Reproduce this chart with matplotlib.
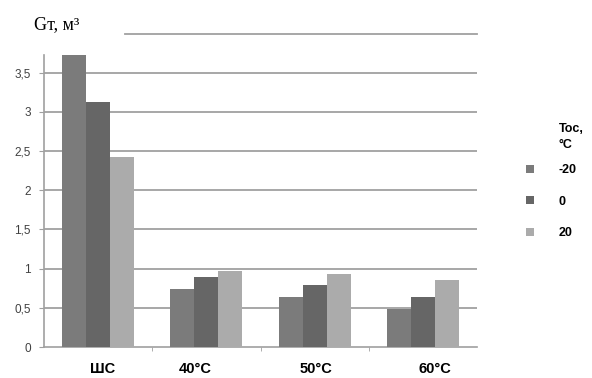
import numpy as np
import matplotlib
matplotlib.use("Agg")
import matplotlib.pyplot as plt

# data
categories = ["ШС", "40°C", "50°C", "60°C"]
series = ["-20", "0", "20"]
vals_m20 = [3.73, 0.74, 0.64, 0.48]
vals_0 = [3.13, 0.89, 0.79, 0.64]
vals_20 = [2.42, 0.97, 0.93, 0.85]
colors = ["#7b7b7b", "#666666", "#ababab"]
yticks = [0, 0.5, 1, 1.5, 2, 2.5, 3, 3.5]
ytick_labels = ["0", "0,5", "1", "1,5", "2", "2,5", "3", "3,5"]

plt.rcParams['font.family'] = ['Liberation Sans', 'DejaVu Sans']

fig = plt.figure(figsize=(5.92, 3.78), dpi=100)
ax = fig.add_axes([0.0743, 0.082, 0.7317, 0.829])

x = np.arange(len(categories))
w = 0.222
bars = []
for i, (vals, c) in enumerate(zip([vals_m20, vals_0, vals_20], colors)):
    b = ax.bar(x + (i - 1) * w, vals, width=w, color=c, zorder=3, linewidth=0)
    bars.append(b)

ax.set_xlim(-0.5, len(categories) - 0.5)
ax.set_ylim(0, 4)

# gridlines
for yv in yticks[1:]:
    ax.axhline(yv, color="#a0a0a0", lw=1.3, zorder=1)
ax.axhline(4, xmin=0.187, xmax=1, color="#a0a0a0", lw=1.3, zorder=1, clip_on=False)

for s in ["top", "right"]:
    ax.spines[s].set_visible(False)
ax.spines["left"].set_bounds(0, 3.73)
for s in ["left", "bottom"]:
    ax.spines[s].set_color("#a0a0a0")
    ax.spines[s].set_linewidth(1.2)

ax.set_yticks(yticks)
ax.set_yticklabels(ytick_labels, fontsize=8.5, color="#404040")
ax.tick_params(axis="y", length=3.5, color="#a0a0a0", pad=6)

# category labels sit a little off the group centres in the original
label_shift = [0.04, -0.10, 0.01, 0.11]
ax.set_xticks(x + np.array(label_shift))
ax.set_xticklabels(categories, fontsize=10.5, fontweight="bold")
ax.tick_params(axis="x", which="major", length=0, pad=11)
ax.set_xticks(x[:-1] + 0.5, minor=True)
ax.tick_params(axis="x", which="minor", length=3, color="#a0a0a0")

fig.text(0.058, 0.934, "Gт, м³", fontsize=13, family="Liberation Serif",
         va="center", ha="left")

fig.text(0.944, 0.675, "Toc,\n°C", fontsize=9, fontweight="bold",
         ha="left", va="top", linespacing=1.45)
leg = fig.legend(handles=bars, labels=series, loc="upper left",
                 bbox_to_anchor=(0.8885, 0.566), frameon=False,
                 prop={"size": 9, "weight": "bold"},
                 handlelength=0.64, handleheight=0.64, handletextpad=2.0,
                 labelspacing=1.56, borderpad=0, borderaxespad=0)

fig.savefig("out.png", dpi=100)
